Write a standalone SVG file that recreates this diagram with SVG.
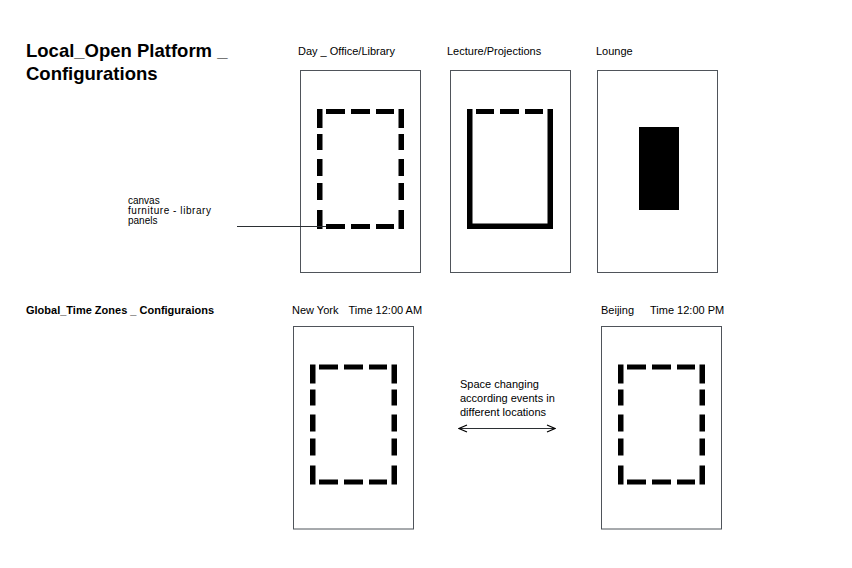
<svg xmlns="http://www.w3.org/2000/svg" xmlns:xlink="http://www.w3.org/1999/xlink" width="852" height="568" viewBox="0 0 852 568">
<style>
text{font-family:"Liberation Sans",Arial,sans-serif;fill:#000}
.title{font-size:18.5px;font-weight:bold}
.sub{font-size:11px;font-weight:bold}
.lbl{font-size:11px}
.small{font-size:10px}
.frame{fill:#fff;stroke:#4f545a;stroke-width:1}
.conn{stroke:#2b2f33;stroke-width:1;fill:none}
</style>
<defs>
<g id="dashbox" fill="#000">
<rect x="17" y="39" width="5.5" height="19"/><rect x="17" y="64" width="5.5" height="16"/><rect x="17" y="89" width="5.5" height="17"/><rect x="17" y="113" width="5.5" height="17"/><rect x="17" y="140" width="5.5" height="19"/>
<rect x="98.5" y="39" width="5.5" height="19"/><rect x="98.5" y="64" width="5.5" height="16"/><rect x="98.5" y="89" width="5.5" height="17"/><rect x="98.5" y="113" width="5.5" height="17"/><rect x="98.5" y="140" width="5.5" height="19"/>
<rect x="26" y="39" width="19" height="5"/><rect x="51" y="39" width="19" height="5"/><rect x="76" y="39" width="18" height="5"/>
<rect x="26" y="154" width="19" height="5"/><rect x="51" y="154" width="19" height="5"/><rect x="76" y="154" width="18" height="5"/>
</g>
<marker id="chev" viewBox="0 0 10 10" refX="9" refY="5" markerWidth="10" markerHeight="10" markerUnits="userSpaceOnUse" orient="auto-start-reverse">
<path d="M1,1.5 L9,5 L1,8.5" fill="none" stroke="#000" stroke-width="1.2"/>
</marker>
</defs>
<rect width="852" height="568" fill="#fff"/>

<g id="titles">
<text class="title" x="26" y="57">Local_Open Platform _</text>
<text class="title" x="26" y="80">Configurations</text>
<text class="sub" x="26" y="313.5">Global_Time Zones _ Configuraions</text>
</g>

<g id="day-office-library">
<text class="lbl" x="298" y="55">Day _ Office/Library</text>
<rect class="frame" x="300.5" y="70.5" width="120" height="202"/>
<use xlink:href="#dashbox" transform="translate(300,70)"/>
</g>

<g id="lecture-projections">
<text class="lbl" x="447" y="55">Lecture/Projections</text>
<rect class="frame" x="450.5" y="70.5" width="120" height="202"/>
<g transform="translate(450,70)" fill="#000">
<rect x="17" y="39" width="5.5" height="120"/>
<rect x="97.5" y="39" width="5.5" height="120"/>
<rect x="17" y="153.5" width="86" height="5.5"/>
<rect x="26" y="39" width="18" height="5"/><rect x="50" y="39" width="19" height="5"/><rect x="75" y="39" width="18" height="5"/>
</g>
</g>

<g id="lounge">
<text class="lbl" x="596" y="55">Lounge</text>
<rect class="frame" x="597.5" y="70.5" width="120" height="202"/>
<rect x="639" y="127" width="40" height="83" fill="#000"/>
</g>

<g id="canvas-label">
<text class="small" x="128" y="203.5">canvas</text>
<text class="small" x="128" y="213.5" textLength="83">furniture - library</text>
<text class="small" x="128" y="223.5">panels</text>
</g>

<g id="new-york">
<text class="lbl" x="292" y="313.5">New York</text>
<text class="lbl" x="348.5" y="313.5">Time 12:00 AM</text>
<rect class="frame" x="293.5" y="326.5" width="120" height="202.5"/>
<use xlink:href="#dashbox" transform="translate(293,325.5)"/>
</g>

<g id="beijing">
<text class="lbl" x="601" y="313.5">Beijing</text>
<text class="lbl" x="650" y="313.5">Time 12:00 PM</text>
<rect class="frame" x="601.5" y="326.5" width="120" height="202.5"/>
<use xlink:href="#dashbox" transform="translate(601,325.5)"/>
</g>

<g id="space-note">
<text class="lbl" x="460" y="387.5">Space changing</text>
<text class="lbl" x="460" y="401.5">according events in</text>
<text class="lbl" x="460" y="415.5">different locations</text>
</g>

<g id="connectors">
<line class="conn" x1="237" y1="226.5" x2="326" y2="226.5"/>
<line class="conn" x1="459" y1="428.5" x2="555" y2="428.5" marker-start="url(#chev)" marker-end="url(#chev)"/>
</g>
</svg>
